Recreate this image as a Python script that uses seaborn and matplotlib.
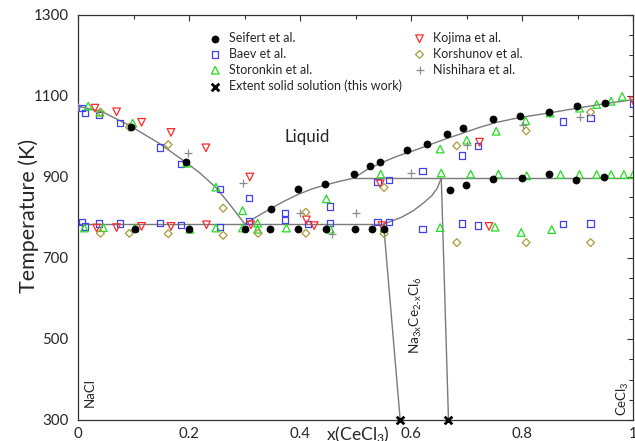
import matplotlib
matplotlib.use("Agg")
import matplotlib.pyplot as plt
import seaborn as sns
from matplotlib.ticker import MultipleLocator

# ---------------- experimental data: x(CeCl3), T in K ----------------
seifert_x = [0.095, 0.194, 0.348, 0.396, 0.444, 0.496, 0.526, 0.544, 0.593, 0.628,
             0.664, 0.694, 0.747, 0.796, 0.848, 0.899, 0.949,
             0.102, 0.200, 0.300, 0.345, 0.395, 0.446, 0.499, 0.529, 0.550,
             0.669, 0.699, 0.747, 0.799, 0.848, 0.897, 0.947]
seifert_T = [1023, 936, 822, 870, 883, 908, 928, 936, 967, 981,
             1006, 1021, 1042, 1050, 1061, 1075, 1083,
             771, 771, 771, 771, 771, 771, 771, 771, 771,
             869, 881, 895, 897, 908, 893, 901]

baev_x = [0.006, 0.012, 0.038, 0.075, 0.147, 0.185, 0.256, 0.308, 0.308,
          0.006, 0.012, 0.038, 0.075, 0.147, 0.185, 0.256,
          0.372, 0.372, 0.414, 0.454, 0.454,
          0.539, 0.560, 0.620, 0.691, 0.720, 0.874, 0.923, 1.000,
          0.539, 0.560, 0.620, 0.691, 0.720, 0.874, 0.923]
baev_T = [1070, 1058, 1054, 1033, 973, 933, 871, 848, 792,
          789, 778, 785, 785, 786, 782, 776,
          811, 793, 784, 827, 786,
          887, 892, 914, 953, 976, 1037, 1046, 1081,
          789, 788, 772, 785, 780, 783, 785]

storonkin_x = [0.018, 0.039, 0.098, 0.195, 0.248, 0.296, 0.323, 0.447,
               0.011, 0.045, 0.102, 0.201, 0.248, 0.296, 0.323, 0.375, 0.454,
               0.652, 0.700, 0.753, 0.806, 0.850, 0.903, 0.934, 0.960, 0.980,
               0.545, 0.654, 0.707, 0.757, 0.808, 0.869, 0.903, 0.934, 0.960, 0.983, 1.000,
               0.551, 0.652, 0.751, 0.798, 0.853]
storonkin_T = [1075, 1060, 1033, 934, 875, 817, 786, 846,
               774, 775, 774, 771, 774, 774, 771, 774, 771,
               969, 991, 1013, 1039, 1058, 1070, 1079, 1087, 1099,
               907, 910, 907, 907, 903, 906, 906, 906, 906, 906, 906,
               774, 775, 776, 763, 770]

kojima_x = [0.030, 0.069, 0.114, 0.167, 0.230, 0.309,
            0.033, 0.069, 0.114, 0.167, 0.231, 0.311, 0.411, 0.425,
            0.544, 0.547, 0.723, 0.740, 1.000]
kojima_T = [1070, 1061, 1035, 1010, 972, 900,
            774, 775, 778, 778, 782, 782, 794, 780,
            883, 780, 986, 778, 1088]

korshunov_x = [0.040, 0.092, 0.162, 0.261, 0.324, 0.410,
               0.040, 0.092, 0.162, 0.261, 0.410,
               0.551, 0.551, 0.682, 0.682, 0.807, 0.807, 0.923, 0.923]
korshunov_T = [1060, 1023, 980, 823, 761, 813,
               761, 761, 760, 756, 761,
               874, 760, 977, 738, 1014, 738, 1060, 738]

nishihara_x = [0.000, 0.198, 0.297, 0.399, 0.458, 0.500, 0.599, 0.700, 0.802, 0.904]
nishihara_T = [1074, 959, 885, 812, 760, 812, 910, 980, 1029, 1048]

# extent of the Na3xCe2-xCl6 solid solution at room temperature
solid_x = [0.580, 0.667]
solid_T = [300, 300]

# ---------------- assessed phase boundaries ----------------
liq_nacl_x = [0.000, 0.045, 0.095, 0.147, 0.194, 0.219, 0.248, 0.273, 0.300]
liq_nacl_T = [1075, 1060, 1025, 982, 936, 910, 874, 832, 784]

liq_cecl3_x = [0.300, 0.324, 0.348, 0.372, 0.396, 0.420, 0.444, 0.470, 0.496,
               0.520, 0.544, 0.574, 0.604, 0.634, 0.664, 0.694, 0.724, 0.754,
               0.796, 0.848, 0.899, 0.949, 1.000]
liq_cecl3_T = [784, 804, 823, 841, 857, 870, 880, 889, 897,
               918, 934, 951, 965, 980, 995, 1009, 1023, 1035,
               1047, 1058, 1070, 1081, 1091]

eutectic_x = [0.000, 0.550]
eutectic_T = [784, 784]
peritectic_x = [0.496, 1.000]
peritectic_T = [897, 897]

ss_upper_x = [0.550, 0.560, 0.583, 0.604, 0.622, 0.637, 0.647, 0.654]
ss_upper_T = [784, 789, 801, 817, 836, 854, 873, 897]
ss_left_x = [0.550, 0.580]
ss_left_T = [784, 300]
ss_right_x = [0.654, 0.667]
ss_right_T = [897, 300]

x_ticks = [0, 0.2, 0.4, 0.6, 0.8, 1.0]
x_tick_labels = ["0", "0.2", "0.4", "0.6", "0.8", "1"]
y_ticks = [300, 500, 700, 900, 1100, 1300]

# ---------------- style ----------------
sns.set_style("white")
plt.rcParams["font.family"] = ["Lato", "DejaVu Sans"]
plt.rcParams["mathtext.fontset"] = "custom"
plt.rcParams["mathtext.rm"] = "Lato"
plt.rcParams["mathtext.it"] = "Lato:italic"
plt.rcParams["mathtext.bf"] = "Lato:bold"

fig = plt.figure(figsize=(6.35, 4.41), dpi=100)
ax = fig.add_axes([78.3 / 635, 1 - 420 / 441, 555 / 635, 405 / 441])

line_kw = dict(color="#7a7a7a", linewidth=1.0, sort=False, estimator=None, ax=ax,
               legend=False, zorder=2)
for lx, ly in [(liq_nacl_x, liq_nacl_T), (liq_cecl3_x, liq_cecl3_T),
               (eutectic_x, eutectic_T), (peritectic_x, peritectic_T),
               (ss_upper_x, ss_upper_T), (ss_left_x, ss_left_T),
               (ss_right_x, ss_right_T)]:
    sns.lineplot(x=lx, y=ly, **line_kw)

open_kw = dict(facecolor="none", linewidth=0.9, ax=ax, zorder=3)
sns.scatterplot(x=seifert_x, y=seifert_T, marker="o", color="black", s=26,
                edgecolor="black", linewidth=0.5, label="Seifert et al.", ax=ax, zorder=4)
sns.scatterplot(x=baev_x, y=baev_T, marker="s", color="#4040f0", edgecolor="#4040f0",
                s=20, label="Baev et al.", **open_kw)
sns.scatterplot(x=storonkin_x, y=storonkin_T, marker="^", color="#22dd22",
                edgecolor="#22dd22", s=30, label="Storonkin et al.", **open_kw)
sns.scatterplot(x=solid_x, y=solid_T, marker="x", color="black", s=30, linewidth=2.0,
                label="Extent solid solution (this work)", ax=ax, zorder=6, clip_on=False)
sns.scatterplot(x=kojima_x, y=kojima_T, marker="v", color="#ff2a2a", edgecolor="#ff2a2a",
                s=30, label="Kojima et al.", **open_kw)
sns.scatterplot(x=korshunov_x, y=korshunov_T, marker="D", color="#a89c3c",
                edgecolor="#a89c3c", s=16, label="Korshunov et al.", **open_kw)
sns.scatterplot(x=nishihara_x, y=nishihara_T, marker="+", color="#8c8c8c",
                s=30, linewidth=0.9, label="Nishihara et al.", ax=ax, zorder=3)

# ---------------- axes ----------------
ax.set_xlim(0, 1)
ax.set_ylim(300, 1300)
ax.set_xticks(x_ticks)
ax.set_xticklabels(x_tick_labels)
ax.set_yticks(y_ticks)
ax.xaxis.set_minor_locator(MultipleLocator(0.1))
ax.yaxis.set_minor_locator(MultipleLocator(50))
ax.tick_params(which="both", direction="in", top=True, right=True, color="#333333",
               width=0.8)
ax.tick_params(which="major", length=4.5, labelsize=10.8)
ax.tick_params(which="minor", length=3)
ax.tick_params(axis="x", which="major", pad=5)
ax.tick_params(axis="y", which="major", pad=7)
for sp in ax.spines.values():
    sp.set_color("#333333")
    sp.set_linewidth(0.9)

ax.set_ylabel("Temperature (K)", fontsize=15.5)
ax.yaxis.set_label_coords(-0.07, 0.505)
ax.set_xlabel("x(CeCl$_3$)", fontsize=12.6, va="top")
ax.xaxis.set_label_coords(0.504, -0.012)

ax.text(0.413, 998, "Liquid", fontsize=12.2, ha="center", va="center")
ax.text(0.021, 369, "NaCl", fontsize=9.5, rotation=90, ha="center", va="center")
ax.text(0.981, 352, "CeCl$_3$", fontsize=9.5, rotation=90, ha="center", va="center")
ax.text(0.609, 560, r"Na$_{\mathrm{3x}}$Ce$_{\text{2-x}}$Cl$_{6}$", fontsize=9.8,
        rotation=90, ha="center", va="center")

handles, labels = ax.get_legend_handles_labels()
order = ["Seifert et al.", "Baev et al.", "Storonkin et al.",
         "Extent solid solution (this work)", "Kojima et al.", "Korshunov et al.",
         "Nishihara et al."]
hmap = dict(zip(labels, handles))
ax.legend([hmap[k] for k in order], order, ncol=2, frameon=False, fontsize=9.0,
          loc="upper left", bbox_to_anchor=((209 - 78.3) / 555, 0.958),
          borderpad=0, handlelength=1.0, handletextpad=0.6, columnspacing=0.9,
          labelspacing=0.3, borderaxespad=0)

fig.savefig("out.png", dpi=100)
